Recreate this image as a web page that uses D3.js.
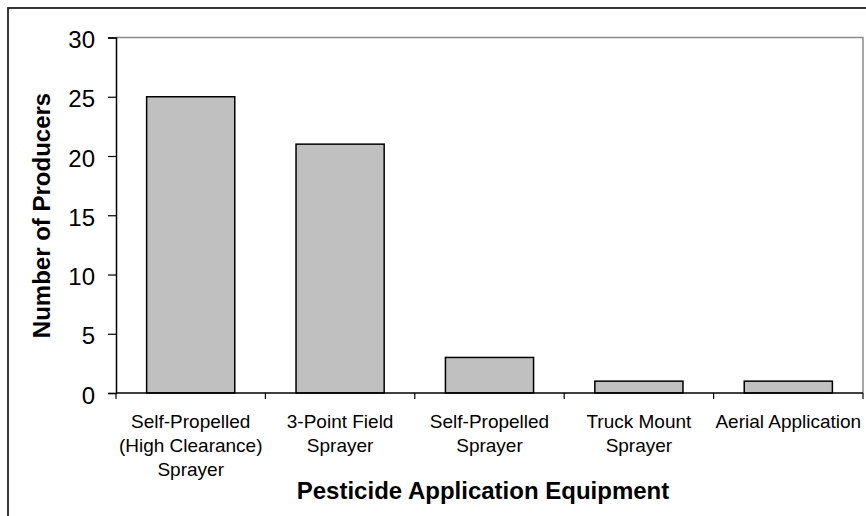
<!DOCTYPE html>
<html>
<head>
    <meta charset="utf-8" />
    <script src="https://d3js.org/d3.v7.min.js"></script>
    <title>Pesticide Application Equipment</title>
    <style>
        body { margin: 0; background: #fff; }
        svg { display: block; font-family: Arial, "Liberation Sans", sans-serif; }
    </style>
</head>
<body>
    <svg id="chart" width="866" height="516"></svg>

    <script>
        // chart data
        var categories = [
            ["Self-Propelled", "(High Clearance)", "Sprayer"],
            ["3-Point Field", "Sprayer"],
            ["Self-Propelled", "Sprayer"],
            ["Truck Mount", "Sprayer"],
            ["Aerial Application"]
        ];
        var producers = [25, 21, 3, 1, 1];
        var yTicks = [0, 5, 10, 15, 20, 25, 30];

        var margin = { top: 37.5, right: 3, bottom: 123, left: 116 };
        var width = 866 - margin.left - margin.right;
        var height = 516 - margin.top - margin.bottom;

        var svg = d3.select("#chart");

        // outer frame (runs off the right and bottom edges)
        svg.append("rect")
            .attr("x", 8)
            .attr("y", 8)
            .attr("width", 900)
            .attr("height", 600)
            .attr("fill", "none")
            .attr("stroke", "#222")
            .attr("stroke-width", 1.8);

        var g = svg.append("g")
            .attr("transform", "translate(" + margin.left + "," + margin.top + ")");

        var idx = categories.map(function (d, i) { return i; });

        var x = d3.scaleBand()
            .domain(idx)
            .range([0, width])
            .padding(0);

        var y = d3.scaleLinear()
            .domain([0, 30])
            .range([height, 0]);

        // plot area top and right border
        g.append("path")
            .attr("d", "M0,0H" + width + "V" + height)
            .attr("fill", "none")
            .attr("stroke", "#8c8c8c")
            .attr("stroke-width", 1.5);

        // bars
        var barW = x.bandwidth() * 0.59;
        g.selectAll(".bar")
            .data(producers)
            .enter().append("rect")
            .attr("class", "bar")
            .attr("x", function (d, i) { return x(i) + (x.bandwidth() - barW) / 2; })
            .attr("y", function (d) { return y(d); })
            .attr("width", barW)
            .attr("height", function (d) { return height - y(d); })
            .attr("fill", "#c0c0c0")
            .attr("stroke", "#000")
            .attr("stroke-width", 1.5);

        // y axis
        var yAxis = g.append("g")
            .call(d3.axisLeft(y).tickValues(yTicks).tickSize(8).tickPadding(13));
        yAxis.select(".domain").attr("stroke", "#000").attr("stroke-width", 1.5);
        yAxis.selectAll(".tick line").attr("stroke-width", 1.2);
        yAxis.selectAll(".tick text")
            .attr("font-size", "24px")
            .attr("font-family", "Arial, 'Liberation Sans', sans-serif")
            .attr("fill", "#000")
            .attr("dy", "0.42em");

        // x axis: ticks sit on band boundaries
        var xEdges = d3.range(categories.length + 1).map(function (i) { return i * x.step(); });
        var xAxis = g.append("g")
            .attr("transform", "translate(0," + height + ")");
        xAxis.append("line")
            .attr("x1", 0).attr("x2", width)
            .attr("stroke", "#000").attr("stroke-width", 1.5);
        xAxis.selectAll(".xt")
            .data(xEdges)
            .enter().append("line")
            .attr("class", "xt")
            .attr("x1", function (d) { return d; })
            .attr("x2", function (d) { return d; })
            .attr("y1", 0).attr("y2", 6)
            .attr("stroke", "#000").attr("stroke-width", 1.2);

        // category labels
        var labels = xAxis.selectAll(".xl")
            .data(categories)
            .enter().append("text")
            .attr("class", "xl")
            .attr("text-anchor", "middle")
            .attr("font-size", "19px")
            .attr("fill", "#000")
            .attr("transform", function (d, i) {
                return "translate(" + (x(i) + x.bandwidth() / 2) + ",35)";
            });
        labels.selectAll("tspan")
            .data(function (d) { return d; })
            .enter().append("tspan")
            .attr("x", 0)
            .attr("y", function (d, i) { return i * 24; })
            .text(function (d) { return d; });

        // axis titles
        svg.append("text")
            .attr("x", 483)
            .attr("y", 499)
            .attr("text-anchor", "middle")
            .attr("font-size", "24px")
            .attr("font-weight", "bold")
            .text("Pesticide Application Equipment");

        svg.append("text")
            .attr("transform", "translate(50,215.5) rotate(-90)")
            .attr("text-anchor", "middle")
            .attr("font-size", "24px")
            .attr("font-weight", "bold")
            .text("Number of Producers");
    </script>
</body>
</html>
